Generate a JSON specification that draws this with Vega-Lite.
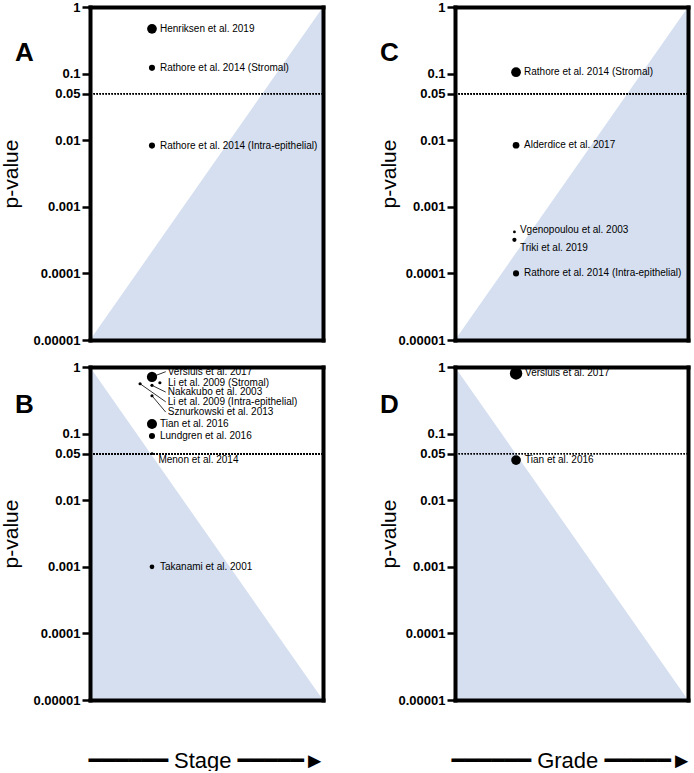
{
  "$schema": "https://vega.github.io/schema/vega-lite/v6.json",
  "background": "white",
  "padding": {"left": 0, "top": 1, "right": 0, "bottom": 0},
  "config": {
    "view": {"stroke": null},
    "title": {"font": "Liberation Sans", "fontSize": 26, "fontWeight": "bold", "color": "black", "anchor": "start", "frame": "bounds", "offset": 0},
    "axis": {"domainColor": "black", "domainWidth": 4, "domainCap": "square", "tickColor": "black", "grid": false, "labelColor": "black", "titleColor": "black"}
  },
  "hconcat": [
    {
      "vconcat": [
        {
          "width": 233, "height": 333,
          "title": {"text": "A", "dx": 15, "dy": 69},
          "data": {"values": [
            {"study": "Henriksen et al. 2019", "x": 0.266, "p": 0.47, "n": 95},
            {"study": "Rathore et al. 2014 (Stromal)", "x": 0.266, "p": 0.122, "n": 37},
            {"study": "Rathore et al. 2014 (Intra-epithelial)", "x": 0.266, "p": 0.0083, "n": 37}
          ]},
          "layer": [
            {
              "data": {"values": [{"x": 0, "top": 0.00001}, {"x": 1, "top": 1}]},
              "mark": {"type": "area", "color": "#d5dff0", "opacity": 1},
              "encoding": {
                "x": {"field": "x", "type": "quantitative", "scale": {"domain": [0, 1], "nice": false, "zero": false},
                      "axis": {"orient": "bottom", "labels": false, "ticks": false, "title": null, "zindex": 1}},
                "y": {"field": "top", "type": "quantitative", "scale": {"type": "log", "domain": [0.00001, 1], "nice": false},
                      "axis": {"orient": "left", "values": [1, 0.1, 0.05, 0.01, 0.001, 0.0001, 0.00001], "format": ".5~f", "labelOverlap": false,
                               "labelFont": "Liberation Sans", "labelFontWeight": "bold", "labelFontSize": 13, "labelPadding": 2,
                               "tickSize": 8, "tickWidth": 2.5, "title": "p-value", "titleFont": "Liberation Sans", "titleFontSize": 21,
                               "titleFontWeight": "normal", "titlePadding": 12, "zindex": 1}},
                "y2": {"datum": 0.00001}
              }
            },
            {
              "mark": {"type": "rule", "strokeDash": [1.5, 1.5], "strokeWidth": 1.5, "color": "black"},
              "encoding": {"y": {"datum": 0.05, "type": "quantitative", "axis": null}}
            },
            {
              "mark": {"type": "circle", "color": "black", "opacity": 1},
              "encoding": {
                "x": {"field": "x", "type": "quantitative", "axis": {"orient": "top", "labels": false, "ticks": false, "title": null, "zindex": 1}},
                "y": {"field": "p", "type": "quantitative", "axis": {"orient": "right", "labels": false, "ticks": false, "title": null, "zindex": 1}},
                "size": {"field": "n", "type": "quantitative", "scale": {"domain": [0, 100], "range": [0, 100]}, "legend": null}
              }
            },
            {
              "transform": [{"filter": "!isValid(datum.lp)"}],
              "mark": {"type": "text", "align": "left", "baseline": "middle", "dx": 8, "font": "Liberation Sans", "fontSize": 10, "color": "black"},
              "encoding": {
                "x": {"field": "x", "type": "quantitative", "axis": null},
                "y": {"field": "p", "type": "quantitative", "axis": null},
                "text": {"field": "study"}
              }
            }
          ],
          "resolve": {"axis": {"x": "independent", "y": "independent"}}
        },
        {
          "width": 233, "height": 333,
          "title": {"text": "B", "dx": 15, "dy": 61},
          "data": {"values": [
            {"study": "Versluis et al. 2017", "x": 0.266, "p": 0.71, "n": 105, "lx": 0.325, "lp": 0.85, "leader": true},
            {"study": "Li et al. 2009 (Stromal)", "x": 0.3, "p": 0.58, "n": 10},
            {"study": "Nakakubo et al. 2003", "x": 0.266, "p": 0.53, "n": 10, "lx": 0.325, "lp": 0.42, "leader": true},
            {"study": "Li et al. 2009 (Intra-epithelial)", "x": 0.215, "p": 0.56, "n": 10, "lx": 0.325, "lp": 0.3, "leader": true},
            {"study": "Sznurkowski et al. 2013", "x": 0.266, "p": 0.37, "n": 10, "lx": 0.325, "lp": 0.21, "leader": true},
            {"study": "Tian et al. 2016", "x": 0.266, "p": 0.139, "n": 100},
            {"study": "Lundgren et al. 2016", "x": 0.266, "p": 0.092, "n": 37},
            {"study": "Menon et al. 2014", "x": 0.266, "p": 0.05, "n": 7, "lx": 0.285, "lp": 0.04, "leader": false},
            {"study": "Takanami et al. 2001", "x": 0.266, "p": 0.001, "n": 22}
          ]},
          "layer": [
            {
              "data": {"values": [{"x": 0, "top": 1}, {"x": 1, "top": 0.00001}]},
              "mark": {"type": "area", "color": "#d5dff0", "opacity": 1},
              "encoding": {
                "x": {"field": "x", "type": "quantitative", "scale": {"domain": [0, 1], "nice": false, "zero": false},
                      "axis": {"orient": "bottom", "labels": false, "ticks": false, "title": "━━━━━━ Stage ━━━━━►", "titleFont": "Liberation Sans, DejaVu Sans",
                               "titleFontSize": 22, "titleFontWeight": "normal", "titlePadding": 50, "zindex": 1}},
                "y": {"field": "top", "type": "quantitative", "scale": {"type": "log", "domain": [0.00001, 1], "nice": false},
                      "axis": {"orient": "left", "values": [1, 0.1, 0.05, 0.01, 0.001, 0.0001, 0.00001], "format": ".5~f", "labelOverlap": false,
                               "labelFont": "Liberation Sans", "labelFontWeight": "bold", "labelFontSize": 13, "labelPadding": 2,
                               "tickSize": 8, "tickWidth": 2.5, "title": "p-value", "titleFont": "Liberation Sans", "titleFontSize": 21,
                               "titleFontWeight": "normal", "titlePadding": 12, "zindex": 1}},
                "y2": {"datum": 0.00001}
              }
            },
            {
              "mark": {"type": "rule", "strokeDash": [1.5, 1.5], "strokeWidth": 1.5, "color": "black"},
              "encoding": {"y": {"datum": 0.05, "type": "quantitative", "axis": null}}
            },
            {
              "transform": [{"filter": "datum.leader === true"}],
              "mark": {"type": "rule", "strokeWidth": 0.8, "color": "black"},
              "encoding": {
                "x": {"field": "x", "type": "quantitative", "axis": null},
                "y": {"field": "p", "type": "quantitative", "axis": null},
                "x2": {"field": "lx"},
                "y2": {"field": "lp"}
              }
            },
            {
              "mark": {"type": "circle", "color": "black", "opacity": 1},
              "encoding": {
                "x": {"field": "x", "type": "quantitative", "axis": {"orient": "top", "labels": false, "ticks": false, "title": null, "zindex": 1}},
                "y": {"field": "p", "type": "quantitative", "axis": {"orient": "right", "labels": false, "ticks": false, "title": null, "zindex": 1}},
                "size": {"field": "n", "type": "quantitative", "scale": {"domain": [0, 100], "range": [0, 100]}, "legend": null}
              }
            },
            {
              "transform": [{"filter": "!isValid(datum.lp)"}],
              "mark": {"type": "text", "align": "left", "baseline": "middle", "dx": 8, "font": "Liberation Sans", "fontSize": 10, "color": "black"},
              "encoding": {
                "x": {"field": "x", "type": "quantitative", "axis": null},
                "y": {"field": "p", "type": "quantitative", "axis": null},
                "text": {"field": "study"}
              }
            },
            {
              "transform": [{"filter": "isValid(datum.lp)"}],
              "mark": {"type": "text", "align": "left", "baseline": "middle", "dx": 2, "font": "Liberation Sans", "fontSize": 10, "color": "black"},
              "encoding": {
                "x": {"field": "lx", "type": "quantitative", "axis": null},
                "y": {"field": "lp", "type": "quantitative", "axis": null},
                "text": {"field": "study"}
              }
            }
          ],
          "resolve": {"axis": {"x": "independent", "y": "independent"}}
        }
      ],
      "spacing": 14
    },
    {
      "vconcat": [
        {
          "width": 233, "height": 333,
          "title": {"text": "C", "dx": 2, "dy": 69},
          "data": {"values": [
            {"study": "Rathore et al. 2014 (Stromal)", "x": 0.262, "p": 0.105, "n": 95},
            {"study": "Alderdice et al. 2017", "x": 0.262, "p": 0.0084, "n": 45},
            {"study": "Vgenopoulou et al. 2003", "x": 0.255, "p": 0.00042, "n": 8, "lx": 0.27, "lp": 0.00045},
            {"study": "Triki et al. 2019", "x": 0.255, "p": 0.00032, "n": 18, "lx": 0.27, "lp": 0.00024},
            {"study": "Rathore et al. 2014 (Intra-epithelial)", "x": 0.262, "p": 0.0001, "n": 37}
          ]},
          "layer": [
            {
              "data": {"values": [{"x": 0, "top": 0.00001}, {"x": 1, "top": 1}]},
              "mark": {"type": "area", "color": "#d5dff0", "opacity": 1},
              "encoding": {
                "x": {"field": "x", "type": "quantitative", "scale": {"domain": [0, 1], "nice": false, "zero": false},
                      "axis": {"orient": "bottom", "labels": false, "ticks": false, "title": null, "zindex": 1}},
                "y": {"field": "top", "type": "quantitative", "scale": {"type": "log", "domain": [0.00001, 1], "nice": false},
                      "axis": {"orient": "left", "values": [1, 0.1, 0.05, 0.01, 0.001, 0.0001, 0.00001], "format": ".5~f", "labelOverlap": false,
                               "labelFont": "Liberation Sans", "labelFontWeight": "bold", "labelFontSize": 13, "labelPadding": 2,
                               "tickSize": 8, "tickWidth": 2.5, "title": "p-value", "titleFont": "Liberation Sans", "titleFontSize": 21,
                               "titleFontWeight": "normal", "titlePadding": -1, "zindex": 1}},
                "y2": {"datum": 0.00001}
              }
            },
            {
              "mark": {"type": "rule", "strokeDash": [1.5, 1.5], "strokeWidth": 1.5, "color": "black"},
              "encoding": {"y": {"datum": 0.05, "type": "quantitative", "axis": null}}
            },
            {
              "mark": {"type": "circle", "color": "black", "opacity": 1},
              "encoding": {
                "x": {"field": "x", "type": "quantitative", "axis": {"orient": "top", "labels": false, "ticks": false, "title": null, "zindex": 1}},
                "y": {"field": "p", "type": "quantitative", "axis": {"orient": "right", "labels": false, "ticks": false, "title": null, "zindex": 1}},
                "size": {"field": "n", "type": "quantitative", "scale": {"domain": [0, 100], "range": [0, 100]}, "legend": null}
              }
            },
            {
              "transform": [{"filter": "!isValid(datum.lp)"}],
              "mark": {"type": "text", "align": "left", "baseline": "middle", "dx": 8, "font": "Liberation Sans", "fontSize": 10, "color": "black"},
              "encoding": {
                "x": {"field": "x", "type": "quantitative", "axis": null},
                "y": {"field": "p", "type": "quantitative", "axis": null},
                "text": {"field": "study"}
              }
            },
            {
              "transform": [{"filter": "isValid(datum.lp)"}],
              "mark": {"type": "text", "align": "left", "baseline": "middle", "dx": 2, "font": "Liberation Sans", "fontSize": 10, "color": "black"},
              "encoding": {
                "x": {"field": "lx", "type": "quantitative", "axis": null},
                "y": {"field": "lp", "type": "quantitative", "axis": null},
                "text": {"field": "study"}
              }
            }
          ],
          "resolve": {"axis": {"x": "independent", "y": "independent"}}
        },
        {
          "width": 233, "height": 333,
          "title": {"text": "D", "dx": 2, "dy": 61},
          "data": {"values": [
            {"study": "Versluis et al. 2017", "x": 0.262, "p": 0.8, "n": 155},
            {"study": "Tian et al. 2016", "x": 0.262, "p": 0.04, "n": 95}
          ]},
          "layer": [
            {
              "data": {"values": [{"x": 0, "top": 1}, {"x": 1, "top": 0.00001}]},
              "mark": {"type": "area", "color": "#d5dff0", "opacity": 1},
              "encoding": {
                "x": {"field": "x", "type": "quantitative", "scale": {"domain": [0, 1], "nice": false, "zero": false},
                      "axis": {"orient": "bottom", "labels": false, "ticks": false, "title": "━━━━━━ Grade ━━━━━►", "titleFont": "Liberation Sans, DejaVu Sans",
                               "titleFontSize": 22, "titleFontWeight": "normal", "titlePadding": 50, "zindex": 1}},
                "y": {"field": "top", "type": "quantitative", "scale": {"type": "log", "domain": [0.00001, 1], "nice": false},
                      "axis": {"orient": "left", "values": [1, 0.1, 0.05, 0.01, 0.001, 0.0001, 0.00001], "format": ".5~f", "labelOverlap": false,
                               "labelFont": "Liberation Sans", "labelFontWeight": "bold", "labelFontSize": 13, "labelPadding": 2,
                               "tickSize": 8, "tickWidth": 2.5, "title": "p-value", "titleFont": "Liberation Sans", "titleFontSize": 21,
                               "titleFontWeight": "normal", "titlePadding": -1, "zindex": 1}},
                "y2": {"datum": 0.00001}
              }
            },
            {
              "mark": {"type": "rule", "strokeDash": [1.5, 1.5], "strokeWidth": 1.5, "color": "black"},
              "encoding": {"y": {"datum": 0.05, "type": "quantitative", "axis": null}}
            },
            {
              "mark": {"type": "circle", "color": "black", "opacity": 1},
              "encoding": {
                "x": {"field": "x", "type": "quantitative", "axis": {"orient": "top", "labels": false, "ticks": false, "title": null, "zindex": 1}},
                "y": {"field": "p", "type": "quantitative", "axis": {"orient": "right", "labels": false, "ticks": false, "title": null, "zindex": 1}},
                "size": {"field": "n", "type": "quantitative", "scale": {"domain": [0, 100], "range": [0, 100]}, "legend": null}
              }
            },
            {
              "mark": {"type": "text", "align": "left", "baseline": "middle", "dx": 9, "font": "Liberation Sans", "fontSize": 10, "color": "black"},
              "encoding": {
                "x": {"field": "x", "type": "quantitative", "axis": null},
                "y": {"field": "p", "type": "quantitative", "axis": null},
                "text": {"field": "study"}
              }
            }
          ],
          "resolve": {"axis": {"x": "independent", "y": "independent"}}
        }
      ],
      "spacing": 14
    }
  ],
  "spacing": 52
}
